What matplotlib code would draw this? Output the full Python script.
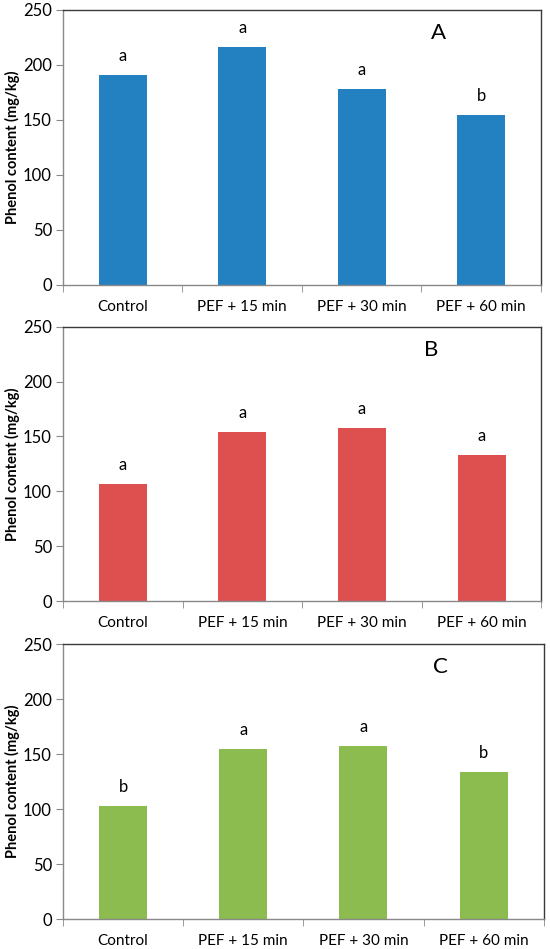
import matplotlib
matplotlib.use("Agg")
from matplotlib import pyplot as plt
import numpy as np

categories = ["Control", "PEF + 15 min", "PEF + 30 min", "PEF + 60 min"]
phenol_a = [191, 216, 178.5, 154.5]
phenol_b = [106.5, 154.5, 157.5, 133.5]
phenol_c = [102.5, 154.5, 157.5, 133.5]
letters_a = ["a", "a", "a", "b"]
letters_b = ["a", "a", "a", "a"]
letters_c = ["b", "a", "a", "b"]
panel_names = ["A", "B", "C"]
y_ticks = [0, 50, 100, 150, 200, 250]

plt.rcParams['font.family'] = ['Lato', 'DejaVu Sans']


def draw_panel(ax, values, letters, color, name, name_x):
    x = np.arange(len(categories))
    ax.bar(x, values, width=0.4, color=color)
    for xi, v, lab in zip(x, values, letters):
        ax.text(xi, v + 10, lab, ha='center', va='bottom', fontsize=12)
    ax.text(name_x, 229, name, ha='center', va='center', fontsize=16)

    ax.set_xlim(-0.5, len(categories) - 0.5)
    ax.set_ylim(0, 250)
    ax.set_yticks(y_ticks)
    ax.set_xticks(x)
    ax.set_xticklabels(categories)
    ax.set_xticks(np.arange(len(categories) + 1) - 0.5, minor=True)
    ax.tick_params(axis='x', which='major', length=0, pad=11, labelsize=11)
    ax.tick_params(axis='x', which='minor', length=5, color='#898989')
    ax.tick_params(axis='y', length=5, color='#898989', labelsize=12, pad=3)
    ax.set_ylabel("Phenol content (mg/kg)", fontsize=10.5, fontweight='bold', labelpad=2)

    ax.spines['left'].set_color('#898989')
    ax.spines['bottom'].set_color('#898989')
    ax.spines['top'].set_color('#3a3a3a')
    ax.spines['right'].set_color('#3a3a3a')
    for s in ax.spines.values():
        s.set_linewidth(1.0)


fig = plt.figure(figsize=(5.5, 9.49), dpi=100)
ax_a = fig.add_axes([0.1145, 0.6997, 0.869, 0.2898])
ax_b = fig.add_axes([0.1145, 0.3667, 0.870, 0.2890])
ax_c = fig.add_axes([0.1145, 0.0316, 0.874, 0.2895])

draw_panel(ax_a, phenol_a, letters_a, '#2381C2', panel_names[0], 2.64)
draw_panel(ax_b, phenol_b, letters_b, '#DE5050', panel_names[1], 2.58)
draw_panel(ax_c, phenol_c, letters_c, '#8CBB50', panel_names[2], 2.64)

fig.savefig("out.png", dpi=100)
